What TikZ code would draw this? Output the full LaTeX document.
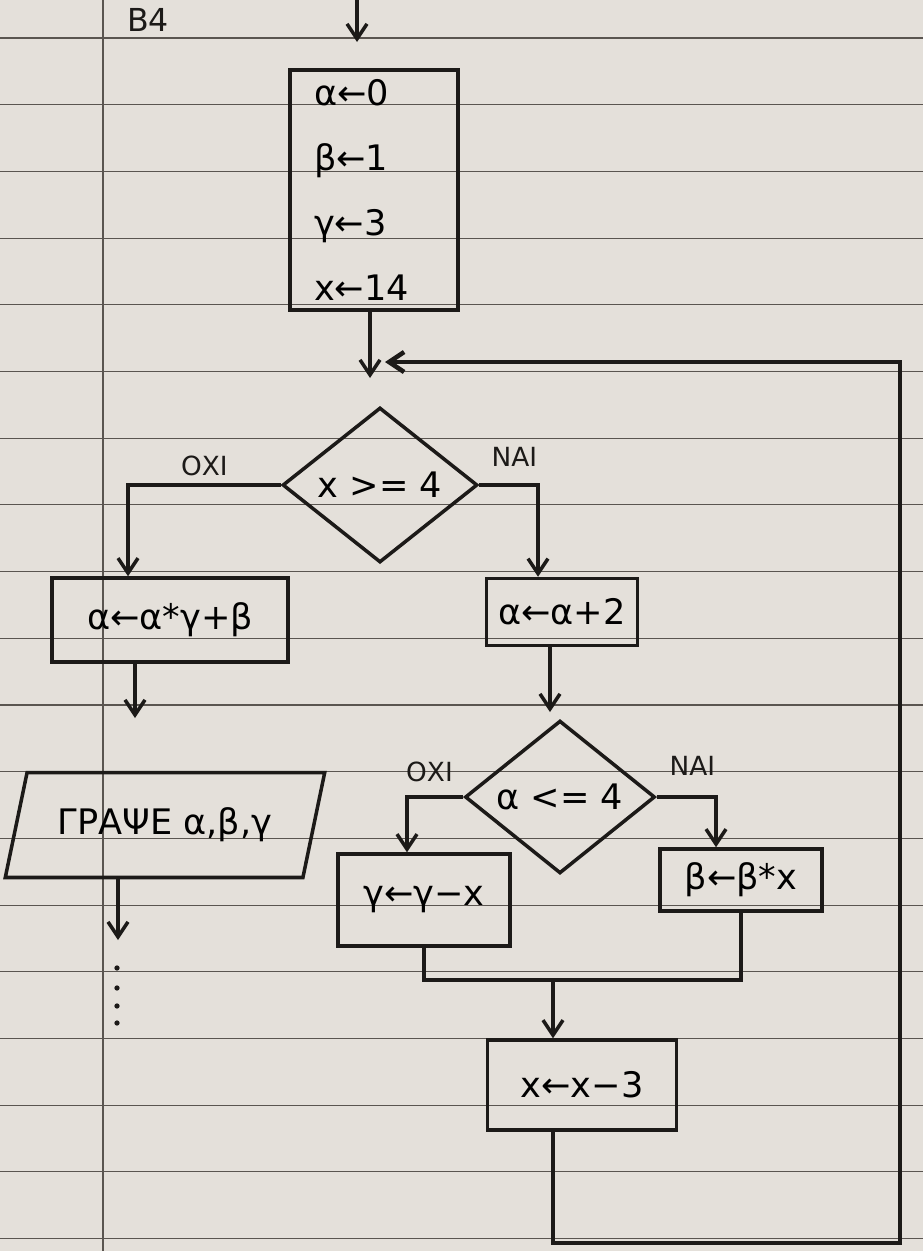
\documentclass[tikz,border=0pt]{standalone}
\usepackage{fontspec}
\setmainfont{DejaVu Sans}
\usetikzlibrary{arrows.meta,positioning,shapes.geometric}
\definecolor{paper}{HTML}{E4E0DA}
\definecolor{rule}{HTML}{5A5550}
\definecolor{ink}{HTML}{1C1A18}

\begin{document}
\begin{tikzpicture}[x=0.02cm,y=-0.02cm,box/.style={draw=ink,line width=2pt,inner sep=2pt,font=\fontsize{20}{24}\selectfont},cond/.style={diamond,draw=ink,line width=2pt,inner sep=0pt,font=\fontsize{20}{24}\selectfont},io/.style={trapezium,trapezium left angle=67,trapezium right angle=113,trapezium stretches=true,draw=ink,line width=2pt,inner sep=2pt,font=\fontsize{20}{24}\selectfont},lbl/.style={font=\fontsize{15}{18}\selectfont,text=ink},arr/.style={-{Straight Barb[length=3mm,width=4mm]},line width=2pt,draw=ink},wire/.style={line width=2pt,draw=ink}]
% paper
\fill[paper] (0,0) rectangle (923,1251);
\useasboundingbox (0,0) rectangle (923,1251);
\foreach \k in {0,...,18}
  \draw[rule,line width=0.6pt] (0,38+66.7*\k) -- (923,38+66.7*\k);
\draw[rule,line width=0.8pt] (103,0) -- (103,1251);
% nodes
\node[lbl,font=\fontsize{18}{20}\selectfont] (title) at (148,20) {Β4};
\node[box,minimum width=3.36cm,minimum height=4.8cm,align=left,text width=2.4cm,font=\fontsize{20}{37}\selectfont] (init) at (374,190) {α←0\\β←1\\γ←3\\x←14};
\node[cond,minimum width=3.9cm,minimum height=3.1cm] (c1) at (380,485) {x >= 4};
\node[box,minimum width=4.72cm,minimum height=1.68cm] (a1) at (170,620) {α←α*γ+β};
\node[box,minimum width=3.02cm,minimum height=1.34cm] (a2) at (562,612) {α←α+2};
\node[io,minimum width=6.4cm,minimum height=2.1cm] (out) at (165,825) {ΓΡΑΨΕ α,β,γ};
\node[cond,minimum width=3.8cm,minimum height=2.5cm] (c2) at (560,797) {α <= 4};
\node[box,minimum width=3.44cm,minimum height=1.84cm] (g1) at (424,900) {γ←γ−x};
\node[box,minimum width=3.24cm,minimum height=1.24cm] (b1) at (741,880) {β←β*x};
\node[box,minimum width=3.78cm,minimum height=1.8cm] (x1) at (582,1085) {x←x−3};
% free ends
\coordinate (top) at (357,0);
\coordinate (topend) at (357,42);
\coordinate (j) at (370,378);
\coordinate (w1) at (135,718);
\coordinate (w2) at (118,940);
\coordinate (w3) at (550,712);
\coordinate (m) at (553,980);
\coordinate (c) at (553,1243);
\coordinate (e) at (900,362);
\coordinate (f) at (385,362);
% connectors
\draw[arr] (top) -- (topend);
\draw[arr] (init.south -| j) -- (j);
\draw[arr] (c1.west) -| ([xshift=-0.84cm]a1.north) node[lbl,pos=0.25,above=1pt] {ΟΧΙ};
\draw[arr] (c1.east) -| ([xshift=-0.48cm]a2.north) node[lbl,pos=0.3,above=6pt] {ΝΑΙ};
\draw[arr] (a1.south -| w1) -- (w1);
\draw[arr] (out.south -| w2) -- (w2);
\foreach \y in {968,988,1006,1023}
  \fill[ink] (117,\y) circle (1.5pt);
\draw[arr] (a2.south -| w3) -- (w3);
\draw[arr] (c2.west) -| ([xshift=-0.34cm]g1.north) node[lbl,pos=0.3,above=4pt] {ΟΧΙ};
\draw[arr] (c2.east) -| ([xshift=-0.5cm]b1.north) node[lbl,pos=0.3,above=8pt] {ΝΑΙ};
\draw[wire] (g1.south) |- (m) -| (b1.south);
\draw[arr] (m) -- (m |- x1.north);
\draw[arr,line width=2.6pt] (x1.south -| c) -- (c) -| (e) -- (f);
\end{tikzpicture}
\end{document}
